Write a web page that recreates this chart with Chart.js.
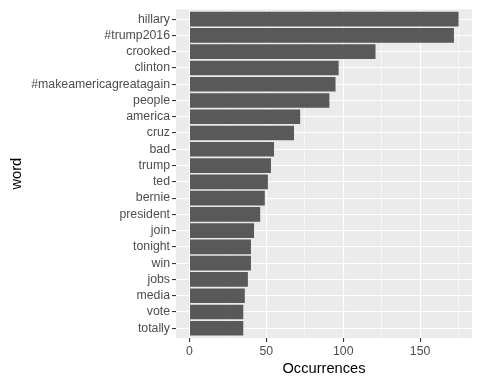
<!DOCTYPE html>
<html>
<head>
<meta charset="utf-8">
<script src="https://cdn.jsdelivr.net/npm/chart.js@4/dist/chart.umd.min.js"></script>
<style>
  html, body { margin: 0; padding: 0; background: #fff; }
  canvas { display: block; }
</style>
</head>
<body>
<canvas id="myChart" width="480" height="384"></canvas>
<script>
// data, top to bottom
const words = ["hillary", "#trump2016", "crooked", "clinton", "#makeamericagreatagain",
  "people", "america", "cruz", "bad", "trump", "ted", "bernie", "president",
  "join", "tonight", "win", "jobs", "media", "vote", "totally"];
const counts = [175, 172, 121, 97, 95, 91, 72, 68, 55, 53, 51, 49, 46, 42, 40, 40, 38, 36, 35, 35];
const xTicks = [0, 25, 50, 75, 100, 125, 150, 175];

const FONT = "'Liberation Sans', Arial, sans-serif";

// grey ggplot panel behind the grid
const panelBg = {
  id: "panelBg",
  beforeDraw(chart) {
    const { ctx, chartArea: { left, top, width, height } } = chart;
    ctx.save();
    ctx.fillStyle = "#ffffff";
    ctx.fillRect(0, 0, chart.width, chart.height);
    ctx.fillStyle = "#EBEBEB";
    ctx.fillRect(left, top, width, height);
    ctx.restore();
  },
};

const ctx = document.getElementById("myChart");

new Chart(ctx, {
  type: "bar",
  data: {
    datasets: [{
      data: words.map((w, i) => ({ x: counts[i], y: i })),
      backgroundColor: "#595959",
      borderWidth: 0,
      barPercentage: 0.9,
      categoryPercentage: 1,
    }],
  },
  options: {
    indexAxis: "y",
    responsive: false,
    animation: false,
    devicePixelRatio: 1,
    events: [],
    layout: { padding: { left: 0, right: 8, top: 7, bottom: 0 } },
    plugins: { legend: { display: false }, tooltip: { enabled: false } },
    scales: {
      x: {
        type: "linear",
        min: -8.75,
        max: 183.75,
        afterBuildTicks: (s) => { s.ticks = xTicks.map((v) => ({ value: v })); },
        afterFit: (s) => { s.height = 46; },
        border: { display: false },
        grid: {
          color: "#ffffff",
          lineWidth: (c) => (c.tick && c.tick.value % 50 === 0 ? 1.1 : 0.55),
          tickColor: (c) => (c.tick && c.tick.value % 50 === 0 ? "#333333" : "rgba(0,0,0,0)"),
          tickWidth: 1.1,
          tickLength: 4,
        },
        ticks: {
          autoSkip: false,
          maxRotation: 0,
          padding: 2,
          color: "#4D4D4D",
          font: { family: FONT, size: 12.3 },
          callback: (v) => (v % 50 === 0 ? v : ""),
        },
        title: {
          display: true,
          text: "Occurrences",
          color: "#000000",
          font: { family: FONT, size: 14.67 },
          padding: { top: 0, bottom: 6 },
        },
      },
      y: {
        type: "linear",
        reverse: true,
        offset: false,
        min: -0.6,
        max: 19.6,
        afterBuildTicks: (s) => { s.ticks = words.map((w, i) => ({ value: i })); },
        afterFit: (s) => { s.width = 176; },
        border: { display: false },
        grid: {
          offset: false,
          color: "#ffffff",
          lineWidth: 1.1,
          tickColor: "#333333",
          tickWidth: 1.1,
          tickLength: 4,
        },
        ticks: {
          autoSkip: false,
          padding: 2,
          color: "#4D4D4D",
          font: { family: FONT, size: 12.3 },
          callback: (v) => words[v],
        },
        title: {
          display: true,
          text: "word",
          color: "#000000",
          font: { family: FONT, size: 14.67 },
          padding: { top: 8, bottom: 0 },
        },
      },
    },
  },
  plugins: [panelBg],
});
</script>
</body>
</html>
